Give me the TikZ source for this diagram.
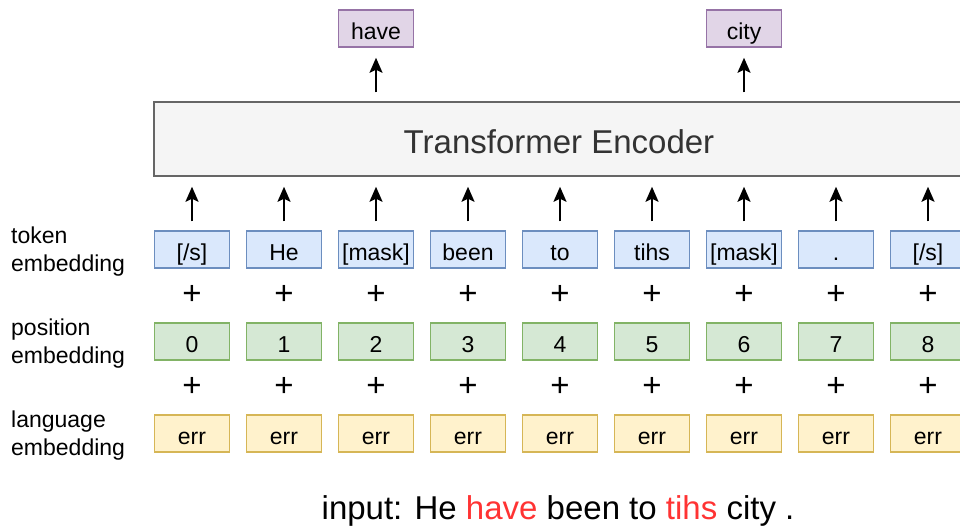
\documentclass[tikz,border=0pt]{standalone}
\usepackage{fontspec}
\setmainfont{Liberation Sans}
\usetikzlibrary{arrows.meta}
\definecolor{tokfill}{HTML}{DAE8FC}\definecolor{tokdraw}{HTML}{6C8EBF}
\definecolor{posfill}{HTML}{D5E8D4}\definecolor{posdraw}{HTML}{82B366}
\definecolor{lanfill}{HTML}{FFF2CC}\definecolor{landraw}{HTML}{D6B656}
\definecolor{outfill}{HTML}{E1D5E7}\definecolor{outdraw}{HTML}{9673A6}
\definecolor{encfill}{HTML}{F5F5F5}\definecolor{encdraw}{HTML}{666666}
\definecolor{enctext}{HTML}{333333}
\definecolor{redtext}{HTML}{FF3333}
\tikzset{
  cell/.style={draw, line width=1.5pt, minimum width=75pt, minimum height=37pt, inner sep=0pt,
    text height=21pt, text depth=0pt,
    font=\fontsize{23}{27}\selectfont, text=black},
  tokbox/.style={cell, fill=tokfill, draw=tokdraw},
  posbox/.style={cell, fill=posfill, draw=posdraw},
  lanbox/.style={cell, fill=lanfill, draw=landraw},
  outbox/.style={cell, fill=outfill, draw=outdraw},
  rowlabel/.style={anchor=west, align=left, inner sep=0pt, font=\fontsize{23}{28}\selectfont},
  plussign/.style={inner sep=0pt, font=\fontsize{33}{36}\selectfont},
  arr/.style={-{Stealth[length=15pt,width=13pt,inset=3pt]}, line width=2pt, shorten >=10pt, shorten <=9pt},
}
\begin{document}
\begin{tikzpicture}[x=1pt,y=-1pt]
\useasboundingbox (0,0) rectangle (960,528);
\clip (0,0) rectangle (960,528);
% encoder
\node[draw=encdraw, fill=encfill, line width=1.5pt, minimum width=810pt, minimum height=74pt,
  text height=28pt, text depth=0pt, inner sep=0pt,
  text=enctext, font=\fontsize{33}{36}\selectfont] (T) at (559,139) {Transformer Encoder};
% outputs
\node[outbox] (have) at (376,28.5) {have};
\node[outbox] (city) at (744,28.5) {city};
\draw[arr] (T.north -| have.south) -- (have.south);
\draw[arr] (T.north -| city.south) -- (city.south);
% columns
\foreach \i/\tok/\x in {0/{[/s]}/192, 1/He/284, 2/{[mask]}/376, 3/been/468, 4/to/560, 5/tihs/652, 6/{[mask]}/744, 7/./836, 8/{[/s]}/928}{
  \node[tokbox] (tok\i) at (\x,249.5) {\tok};
  \node[plussign] (plusA\i) at (\x,295) {+};
  \node[posbox] (pos\i) at (\x,341.5) {\i};
  \node[plussign] (plusB\i) at (\x,387) {+};
  \node[lanbox] (lan\i) at (\x,433.5) {err};
  \draw[arr] (tok\i.north) -- (tok\i.north |- T.south);
}
% row labels
\node[rowlabel] (ltok) at (11,252) {token\\embedding};
\node[rowlabel] (lpos) at (11,344) {position\\embedding};
\node[rowlabel] (llan) at (11,436) {language\\embedding};
% input sentence
\node[inner sep=0pt, font=\fontsize{33}{36}\selectfont] (inp) at (558,511)
  {input: He \textcolor{redtext}{have} been to \textcolor{redtext}{tihs} city .};
\end{tikzpicture}
\end{document}
